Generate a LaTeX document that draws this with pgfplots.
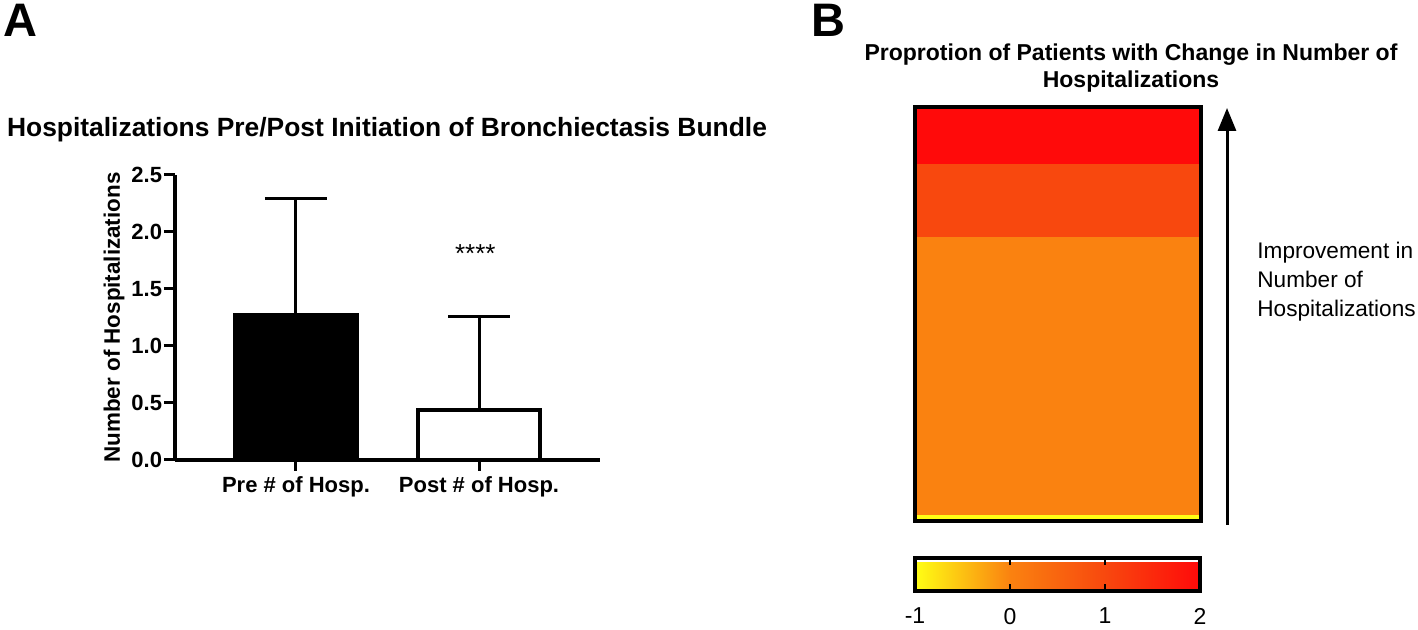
\documentclass[border=0pt]{standalone}
\usepackage{pgfplots}
\pgfplotsset{compat=1.18}
\usepackage{fontspec}
\setmainfont{Liberation Sans}
\usetikzlibrary{arrows.meta}
\definecolor{hmRed}{RGB}{255,10,10}
\definecolor{hmRedOrange}{RGB}{248,72,14}
\definecolor{hmOrange}{RGB}{250,130,16}
\definecolor{hmYellow}{RGB}{255,255,20}
\begin{document}
\begin{tikzpicture}
\path[use as bounding box] (0,0) rectangle (709pt,315pt);
% ---------------- Panel A ----------------
\begin{axis}[
  at={(87.5pt,85pt)}, anchor=south west,
  scale only axis, width=212.5pt, height=142.5pt,
  xmin=0.339, xmax=2.661, ymin=0, ymax=2.5,
  axis x line=bottom, axis y line=left,
  axis line style={-, line width=2pt, black},
  axis on top,
  xtick={1,2}, xticklabels={Pre \# of Hosp., Post \# of Hosp.},
  ytick={0,0.5,1,1.5,2,2.5},
  yticklabel={\pgfmathprintnumber[fixed,fixed zerofill,precision=1,assume math mode=true]{\tick}},
  tick align=outside, major tick length=5.5pt,
  tick style={line width=1.5pt, black},
  ticklabel style={font=\bfseries\fontsize{11}{12}\selectfont},
  yticklabel style={inner sep=0.8pt},
  xticklabel style={inner sep=2.5pt},
  ylabel={Number of Hospitalizations},
  ylabel style={font=\bfseries\fontsize{11.2}{13}\selectfont, at={(axis description cs:-0.1435,0.5)}, anchor=center},
  ybar, bar width=61pt,
  clip=false,
]
\addplot[bar shift=0pt, fill=black, draw=black, line width=2pt,
  error bars/.cd, y dir=plus, y explicit,
  error bar style={line width=1.5pt, black},
  error mark options={rotate=90, mark size=15.5pt, line width=1.5pt, black}]
  coordinates {(1,1.27) +- (0,1.02)};
\addplot[bar shift=0pt, fill=white, draw=black, line width=2pt,
  error bars/.cd, y dir=plus, y explicit,
  error bar style={line width=1.5pt, black},
  error mark options={rotate=90, mark size=15.5pt, line width=1.5pt, black}]
  coordinates {(2,0.44) +- (0,0.82)};
\node[anchor=base, font=\fontsize{13}{15}\selectfont] at (axis cs:1.98,1.73) {****};
\end{axis}
% ---------------- Panel B ----------------
\begin{axis}[
  at={(457.5pt,54.5pt)}, anchor=south west,
  scale only axis, width=143pt, height=207pt,
  xmin=0, xmax=1, ymin=0, ymax=73,
  axis line style={line width=2.2pt, black},
  axis on top,
  xtick=\empty, ytick=\empty,
  colormap={hosp}{color(0)=(hmYellow) color(1)=(hmOrange) color(2)=(hmRedOrange) color(3)=(hmRed)},
  point meta min=-1, point meta max=2,
  colorbar horizontal,
  colorbar style={
    at={(0,-0.0894)}, anchor=north west,
    scale only axis, width=142.5pt, height=16.5pt,
    xtick={-1,0,1,2},
    xticklabel pos=left, tick pos=both, xtick pos=both,
    xtick align=inside, major tick length=3.5pt,
    tick style={line width=1.3pt, black},
    axis line style={line width=1.6pt, black},
    axis on top,
    xticklabel={\pgfmathprintnumber[assume math mode=true]{\tick}},
    xticklabel style={font=\fontsize{11.5}{13}\selectfont, yshift=-5pt},
    extra description/.code={
      \draw[line width=1.3pt, black] (rel axis cs:0.3333,0) -- ++(0,3.5pt);
      \draw[line width=1.3pt, black] (rel axis cs:0.6667,0) -- ++(0,3.5pt);
      \draw[line width=1.3pt, black] (rel axis cs:0.3333,1) -- ++(0,-3.5pt);
      \draw[line width=1.3pt, black] (rel axis cs:0.6667,1) -- ++(0,-3.5pt);
    },
  },
]
\addplot[draw=none, fill=hmYellow] coordinates {(0,0) (1,0) (1,1) (0,1)} -- cycle;
\addplot[draw=none, fill=hmOrange] coordinates {(0,1) (1,1) (1,50) (0,50)} -- cycle;
\addplot[draw=none, fill=hmRedOrange] coordinates {(0,50) (1,50) (1,63) (0,63)} -- cycle;
\addplot[draw=none, fill=hmRed] coordinates {(0,63) (1,63) (1,73) (0,73)} -- cycle;
\end{axis}
% ---------------- Annotations ----------------
\node[font=\bfseries\fontsize{23.5}{26}\selectfont] at (10pt,305pt) {A};
\node[font=\bfseries\fontsize{23.5}{26}\selectfont] at (414pt,305pt) {B};
\node[font=\bfseries\fontsize{13.2}{15}\selectfont] at (193.5pt,250pt) {Hospitalizations Pre/Post Initiation of Bronchiectasis Bundle};
\node[align=center, font=\bfseries\fontsize{11.5}{13.5}\selectfont] at (565.5pt,280.75pt) {Proprotion of Patients with Change in Number of\\Hospitalizations};
\draw[line width=1.5pt, -{Triangle[width=9pt,length=11.5pt]}] (613.5pt,52.5pt) -- (613.5pt,261pt);
\node[anchor=west, align=left, inner sep=0pt, font=\fontsize{11.3}{14.5}\selectfont] at (628.5pt,174pt) {Improvement in\\Number of\\Hospitalizations};
\end{tikzpicture}
\end{document}
